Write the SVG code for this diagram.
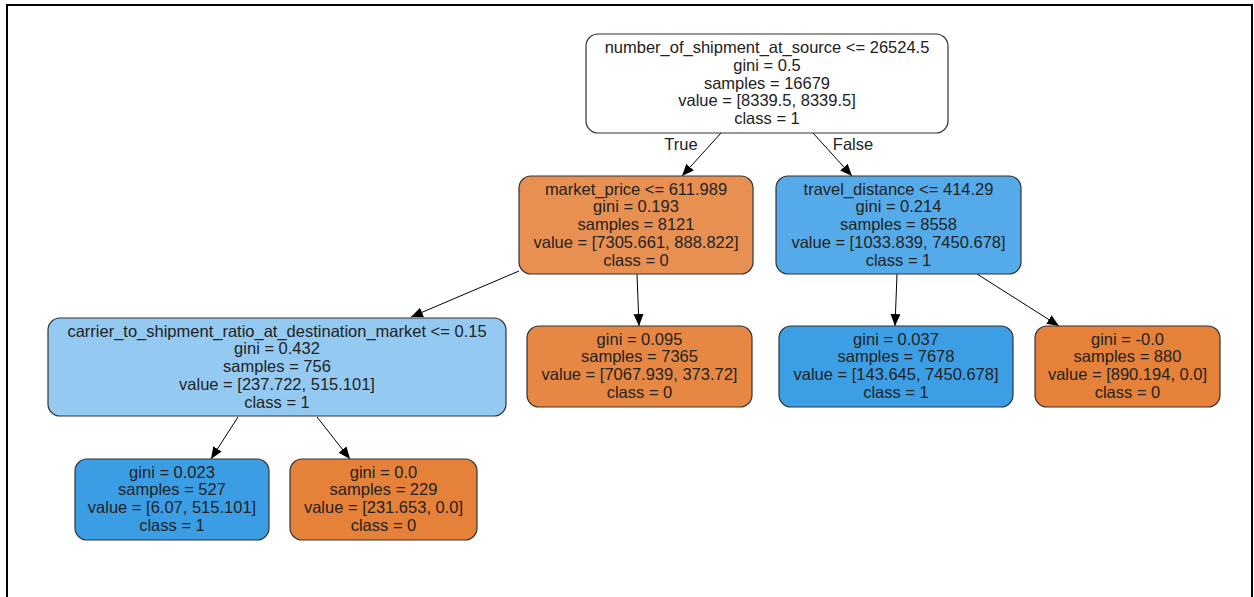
<svg xmlns="http://www.w3.org/2000/svg" width="1254" height="597" viewBox="0 0 1254 597">
<style>
.nd{stroke:#333;stroke-width:1.2}
text{font-family:"Liberation Sans",Arial,sans-serif;font-size:16.5px;fill:#222;text-anchor:middle}
.ed{stroke:#000;stroke-width:1;fill:none;marker-end:url(#ah)}
</style>
<defs>
<marker id="ah" markerUnits="userSpaceOnUse" markerWidth="14" markerHeight="12" refX="12" refY="5" orient="auto">
<path d="M0,0 L12,5 L0,10 z" fill="#000"/>
</marker>
</defs>
<rect width="1254" height="597" fill="#fff"/>
<path d="M7,597 V5 H1252 V597" fill="none" stroke="#000" stroke-width="2"/>
<g id="edges">
<line class="ed" x1="721" y1="133" x2="682" y2="176"/>
<line class="ed" x1="813" y1="133" x2="852" y2="176"/>
<line class="ed" x1="519" y1="271" x2="411" y2="317"/>
<line class="ed" x1="637" y1="274" x2="639" y2="326"/>
<line class="ed" x1="897" y1="274" x2="895" y2="326"/>
<line class="ed" x1="977" y1="274" x2="1059" y2="326"/>
<line class="ed" x1="238" y1="417" x2="211" y2="459"/>
<line class="ed" x1="317" y1="417" x2="350" y2="459"/>
<text x="681" y="150">True</text>
<text x="853" y="150">False</text>
</g>
<g id="n0">
<rect class="nd" x="586" y="34" width="362" height="99" rx="12" fill="#ffffff"/>
<text x="767" y="53">number_of_shipment_at_source &lt;= 26524.5</text>
<text x="767" y="70.8">gini = 0.5</text>
<text x="767" y="88.6">samples = 16679</text>
<text x="767" y="106.4">value = [8339.5, 8339.5]</text>
<text x="767" y="124.2">class = 1</text>
</g>
<g id="n1">
<rect class="nd" x="519" y="176" width="234" height="98" rx="12" fill="#e89051"/>
<text x="636" y="194.5">market_price &lt;= 611.989</text>
<text x="636" y="212.3">gini = 0.193</text>
<text x="636" y="230.1">samples = 8121</text>
<text x="636" y="247.9">value = [7305.661, 888.822]</text>
<text x="636" y="265.7">class = 0</text>
</g>
<g id="n2">
<rect class="nd" x="776" y="176" width="245" height="98" rx="12" fill="#55abe9"/>
<text x="898.5" y="194.5">travel_distance &lt;= 414.29</text>
<text x="898.5" y="212.3">gini = 0.214</text>
<text x="898.5" y="230.1">samples = 8558</text>
<text x="898.5" y="247.9">value = [1033.839, 7450.678]</text>
<text x="898.5" y="265.7">class = 1</text>
</g>
<g id="n3">
<rect class="nd" x="48" y="318" width="458" height="98" rx="12" fill="#94caf1"/>
<text x="277" y="336.5">carrier_to_shipment_ratio_at_destination_market &lt;= 0.15</text>
<text x="277" y="354.3">gini = 0.432</text>
<text x="277" y="372.1">samples = 756</text>
<text x="277" y="389.9">value = [237.722, 515.101]</text>
<text x="277" y="407.7">class = 1</text>
</g>
<g id="n4">
<rect class="nd" x="527" y="326" width="225" height="81" rx="12" fill="#e68844"/>
<text x="639.5" y="344.5">gini = 0.095</text>
<text x="639.5" y="362.3">samples = 7365</text>
<text x="639.5" y="380.1">value = [7067.939, 373.72]</text>
<text x="639.5" y="397.9">class = 0</text>
</g>
<g id="n5">
<rect class="nd" x="779" y="326" width="234" height="81" rx="12" fill="#3c9fe5"/>
<text x="896" y="344.5">gini = 0.037</text>
<text x="896" y="362.3">samples = 7678</text>
<text x="896" y="380.1">value = [143.645, 7450.678]</text>
<text x="896" y="397.9">class = 1</text>
</g>
<g id="n6">
<rect class="nd" x="1035" y="326" width="185" height="81" rx="12" fill="#e58139"/>
<text x="1127.5" y="344.5">gini = -0.0</text>
<text x="1127.5" y="362.3">samples = 880</text>
<text x="1127.5" y="380.1">value = [890.194, 0.0]</text>
<text x="1127.5" y="397.9">class = 0</text>
</g>
<g id="n7">
<rect class="nd" x="75" y="459" width="194" height="81" rx="12" fill="#3b9ee5"/>
<text x="172" y="477.5">gini = 0.023</text>
<text x="172" y="495.3">samples = 527</text>
<text x="172" y="513.1">value = [6.07, 515.101]</text>
<text x="172" y="530.9">class = 1</text>
</g>
<g id="n8">
<rect class="nd" x="290" y="459" width="187" height="81" rx="12" fill="#e58139"/>
<text x="383.5" y="477.5">gini = 0.0</text>
<text x="383.5" y="495.3">samples = 229</text>
<text x="383.5" y="513.1">value = [231.653, 0.0]</text>
<text x="383.5" y="530.9">class = 0</text>
</g>
</svg>
